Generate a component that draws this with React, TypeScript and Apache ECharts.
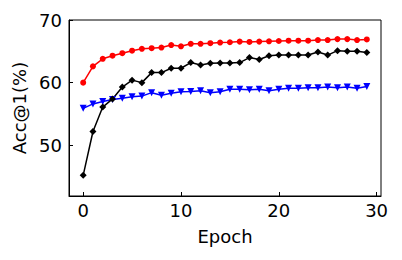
import React, { useEffect, useRef } from "react";
import * as echarts from "echarts";

const epochs = Array.from({ length: 30 }, (_, i) => i);
const redValues = [60.0, 62.6, 63.8, 64.3, 64.7, 65.1, 65.4, 65.5, 65.6, 66.0, 65.8, 66.2, 66.2, 66.3, 66.4, 66.45, 66.55, 66.5, 66.55, 66.6, 66.65, 66.7, 66.7, 66.7, 66.8, 66.8, 66.95, 66.95, 66.8, 66.9];
const blackValues = [45.2, 52.2, 56.1, 57.4, 59.3, 60.4, 60.0, 61.6, 61.6, 62.3, 62.3, 63.2, 62.8, 63.1, 63.15, 63.15, 63.2, 64.0, 63.7, 64.3, 64.4, 64.4, 64.4, 64.4, 64.9, 64.4, 65.1, 65.0, 65.0, 64.8];
const blueValues = [55.9, 56.6, 57.0, 57.3, 57.5, 57.75, 57.85, 58.4, 58.0, 58.3, 58.55, 58.6, 58.7, 58.4, 58.55, 58.95, 58.95, 58.85, 58.95, 58.7, 58.95, 59.1, 59.1, 59.2, 59.2, 59.3, 59.2, 59.3, 59.1, 59.4];
const xTicks = [0, 10, 20, 30];
const yTicks = [50, 60, 70];

const font = "DejaVu Sans";

export default function App() {
  const ref = useRef<HTMLDivElement>(null);
  useEffect(() => {
    if (!ref.current) return;
    const chart = echarts.init(ref.current, null, { renderer: "svg" });
    const mk = (vals: number[]) => epochs.map((e, i) => [e, vals[i]]);
    chart.setOption({
      animation: false,
      grid: { left: 69, right: 21, top: 20, bottom: 64, show: true, borderColor: "#000", borderWidth: 1, backgroundColor: "transparent" },
      xAxis: {
        type: "value",
        min: -1.45,
        max: 30.45,
        name: "Epoch",
        nameLocation: "middle",
        nameGap: 31,
        nameTextStyle: { fontFamily: font, fontSize: 18, color: "#000" },
        axisLine: { show: true, onZero: false, lineStyle: { color: "#000", width: 1 } },
        axisTick: { show: true, inside: true, length: 4, customValues: xTicks, lineStyle: { color: "#000" } },
        axisLabel: { customValues: xTicks, margin: 5, fontFamily: font, fontSize: 18, color: "#000" },
        splitLine: { show: false },
      },
      yAxis: {
        type: "value",
        min: 41.9,
        max: 70,
        name: "Acc@1(%)",
        nameLocation: "middle",
        nameGap: 39,
        nameTextStyle: { fontFamily: font, fontSize: 18, color: "#000" },
        axisLine: { show: true, onZero: false, lineStyle: { color: "#000", width: 1 } },
        axisTick: { show: true, inside: true, length: 4, customValues: yTicks, lineStyle: { color: "#000" } },
        axisLabel: { customValues: yTicks, margin: 7, fontFamily: font, fontSize: 18, color: "#000" },
        splitLine: { show: false },
      },
      series: [
        {
          type: "line",
          data: mk(blueValues),
          symbol: "triangle",
          symbolRotate: 180,
          symbolSize: 7,
          showAllSymbol: true,
          itemStyle: { color: "#0000ff" },
          lineStyle: { color: "#0000ff", width: 1.5 },
        },
        {
          type: "line",
          data: mk(redValues),
          symbol: "circle",
          symbolSize: 6,
          showAllSymbol: true,
          itemStyle: { color: "#ff0000" },
          lineStyle: { color: "#ff0000", width: 1.5 },
        },
        {
          type: "line",
          data: mk(blackValues),
          symbol: "diamond",
          symbolSize: 7,
          showAllSymbol: true,
          itemStyle: { color: "#000000" },
          lineStyle: { color: "#000000", width: 1.5 },
        },
      ],
    });
    return () => chart.dispose();
  }, []);
  return <div ref={ref} style={{ width: 402, height: 260, position: "absolute", left: 0, top: 0 }} />;
}
